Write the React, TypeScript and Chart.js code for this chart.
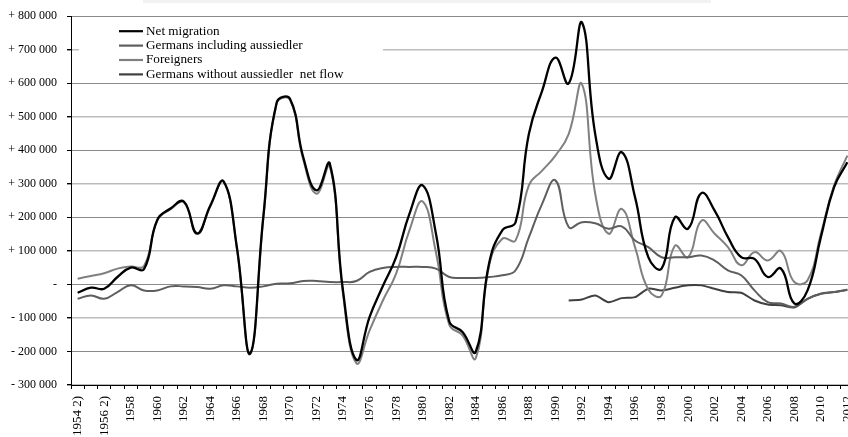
import React, { useEffect, useRef } from 'react';
import { Chart, registerables } from 'chart.js';

Chart.register(...registerables);

const categories = [
  '1954 2)', '1955', '1956 2)', '1957', '1958', '1959', '1960', '1961', '1962', '1963',
  '1964', '1965', '1966', '1967', '1968', '1969', '1970', '1971', '1972', '1973',
  '1974', '1975', '1976', '1977', '1978', '1979', '1980', '1981', '1982', '1983',
  '1984', '1985', '1986', '1987', '1988', '1989', '1990', '1991', '1992', '1993',
  '1994', '1995', '1996', '1997', '1998', '1999', '2000', '2001', '2002', '2003',
  '2004', '2005', '2006', '2007', '2008', '2009', '2010', '2011', '2012',
];

const netMigration = [
  -25000, -10000, -13000, 22000, 50000, 45000, 192000, 226000, 247000, 152000,
  235000, 307000, 110000, -206000, 205000, 542000, 553000, 379000, 280000, 360000,
  -20000, -225000, -97000, -5000, 81000, 210000, 295000, 151000, -110000, -142000,
  -201000, 62000, 161000, 185000, 448000, 577000, 676000, 599000, 781000, 448000,
  315000, 394000, 260000, 81000, 47000, 200000, 166000, 272000, 220000, 141000,
  81000, 76000, 22000, 47000, -57000, -18000, 140000, 290000, 364000,
];

const germansInclAussiedler = [
  -43000, -33000, -43000, -23000, -3000, -18000, -18000, -6000, -6000, -8000,
  -13000, -3000, -6000, -10000, -6000, 2000, 3000, 10000, 10000, 7000,
  7000, 10000, 37000, 49000, 52000, 52000, 52000, 47000, 22000, 19000,
  19000, 22000, 27000, 42000, 140000, 240000, 310000, 171000, 185000, 182000,
  166000, 173000, 131000, 111000, 81000, 81000, 81000, 86000, 71000, 42000,
  27000, -18000, -53000, -57000, -67000, -43000, -28000, -23000, -16000,
];

const foreigners = [
  17000, 25000, 33000, 47000, 53000, 55000, 190000, 224000, 245000, 150000,
  233000, 305000, 108000, -208000, 200000, 540000, 550000, 372000, 270000, 352000,
  -30000, -235000, -137000, -48000, 32000, 161000, 247000, 95000, -120000, -152000,
  -220000, 55000, 136000, 131000, 295000, 339000, 384000, 448000, 597000, 270000,
  151000, 225000, 111000, -15000, -33000, 115000, 81000, 190000, 151000, 111000,
  57000, 96000, 71000, 99000, 7000, 12000, 150000, 295000, 384000,
];

const germansWithoutAussiedler = [
  null, null, null, null, null, null, null, null, null, null,
  null, null, null, null, null, null, null, null, null, null,
  null, null, null, null, null, null, null, null, null, null,
  null, null, null, null, null, null, null, -48000, -45000, -33000,
  -53000, -41000, -38000, -13000, -18000, -10000, -3000, -3000, -13000, -23000,
  -25000, -48000, -60000, -62000, -69000, -43000, -28000, -23000, -16000,
];

const seriesLabels = [
  'Net migration',
  'Germans including aussiedler',
  'Foreigners',
  'Germans without aussiedler  net flow',
];

const SERIF = "'Liberation Serif', 'Times New Roman', serif";

function fmtTick(v: number): string {
  if (v === 0) return '-';
  const abs = Math.abs(v);
  const s = String(abs).replace(/\B(?=(\d{3})+(?!\d))/g, ' ');
  return (v > 0 ? '+ ' : '- ') + s;
}

const decorPlugin = {
  id: 'decor',
  beforeDraw(chart: any) {
    const ctx = chart.ctx;
    ctx.save();
    ctx.fillStyle = '#f2f2f2';
    ctx.fillRect(143, 0, 568, 3);
    ctx.restore();
  },
  beforeDatasetsDraw(chart: any) {
    const ctx = chart.ctx;
    ctx.save();
    ctx.fillStyle = '#ffffff';
    ctx.fillRect(79, 22, 304, 58);
    ctx.restore();
  },
  afterDatasetsDraw(chart: any) {
    const ctx = chart.ctx;
    ctx.save();
    chart.data.datasets.forEach((ds: any, i: number) => {
      const y = 31.2 + i * 14.4;
      ctx.strokeStyle = ds.borderColor;
      ctx.lineWidth = 2.2;
      ctx.beginPath();
      ctx.moveTo(119, y);
      ctx.lineTo(143, y);
      ctx.stroke();
      ctx.fillStyle = '#000';
      ctx.font = `13.2px ${SERIF}`;
      ctx.textBaseline = 'middle';
      ctx.textAlign = 'left';
      ctx.fillText(ds.label, 146, y);
    });
    ctx.restore();
  },
};

export default function App() {
  const ref = useRef<HTMLCanvasElement | null>(null);

  useEffect(() => {
    if (!ref.current) return;
    const chart = new Chart(ref.current, {
      type: 'line',
      data: {
        labels: categories,
        datasets: [
          { label: seriesLabels[0], data: netMigration, borderColor: '#000000', borderWidth: 2.3, tension: 0.45 },
          { label: seriesLabels[1], data: germansInclAussiedler, borderColor: '#5e5e5e', borderWidth: 2, tension: 0.45 },
          { label: seriesLabels[2], data: foreigners, borderColor: '#808080', borderWidth: 2, tension: 0.45 },
          { label: seriesLabels[3], data: germansWithoutAussiedler, borderColor: '#404040', borderWidth: 2, tension: 0.25 },
        ],
      },
      options: {
        responsive: false,
        animation: false,
        layout: { padding: { top: 16, right: 6, left: 0, bottom: 0 } },
        elements: { point: { radius: 0, hoverRadius: 0 } },
        plugins: { legend: { display: false }, tooltip: { enabled: false } },
        scales: {
          x: {
            type: 'category',
            offset: true,
            grid: { drawOnChartArea: false, offset: true, tickLength: 4, tickColor: '#000' },
            border: { color: '#000', width: 1 },
            ticks: {
              autoSkip: false,
              maxRotation: 90,
              minRotation: 90,
              padding: 7,
              color: '#000',
              font: { family: SERIF, size: 13 },
              callback: (_v: any, i: number) => (i % 2 === 0 ? categories[i] : ''),
            },
            afterFit: (s: any) => {
              s.height = 52;
              s.paddingLeft = 0;
              s.paddingRight = 0;
            },
          },
          y: {
            min: -300000,
            max: 800000,
            grid: {
              color: (c: any) => {
                const v = c.tick ? c.tick.value : 0;
                return Math.round(v / 100000) % 2 === 0 ? '#8a8a8a' : '#bcbcbc';
              },
              lineWidth: (c: any) => {
                const v = c.tick ? c.tick.value : 0;
                return Math.round(v / 100000) % 2 === 0 ? 1 : 1.4;
              },
              tickLength: 4,
              tickColor: '#000',
            },
            border: { color: '#000', width: 1 },
            ticks: {
              stepSize: 100000,
              padding: 10,
              color: '#000',
              font: { family: SERIF, size: 12 },
              callback: (v: any) => fmtTick(Number(v)),
            },
            afterFit: (s: any) => {
              s.width = 71;
              s.paddingTop = 0;
              s.paddingBottom = 0;
            },
          },
        },
      },
      plugins: [decorPlugin],
    } as any);
    return () => chart.destroy();
  }, []);

  return (
    <div style={{ position: 'fixed', left: 0, top: 0, width: 848, height: 437, overflow: 'hidden', background: '#fff' }}>
      <canvas ref={ref} width={860} height={437} style={{ display: 'block', width: 860, height: 437 }} />
    </div>
  );
}
